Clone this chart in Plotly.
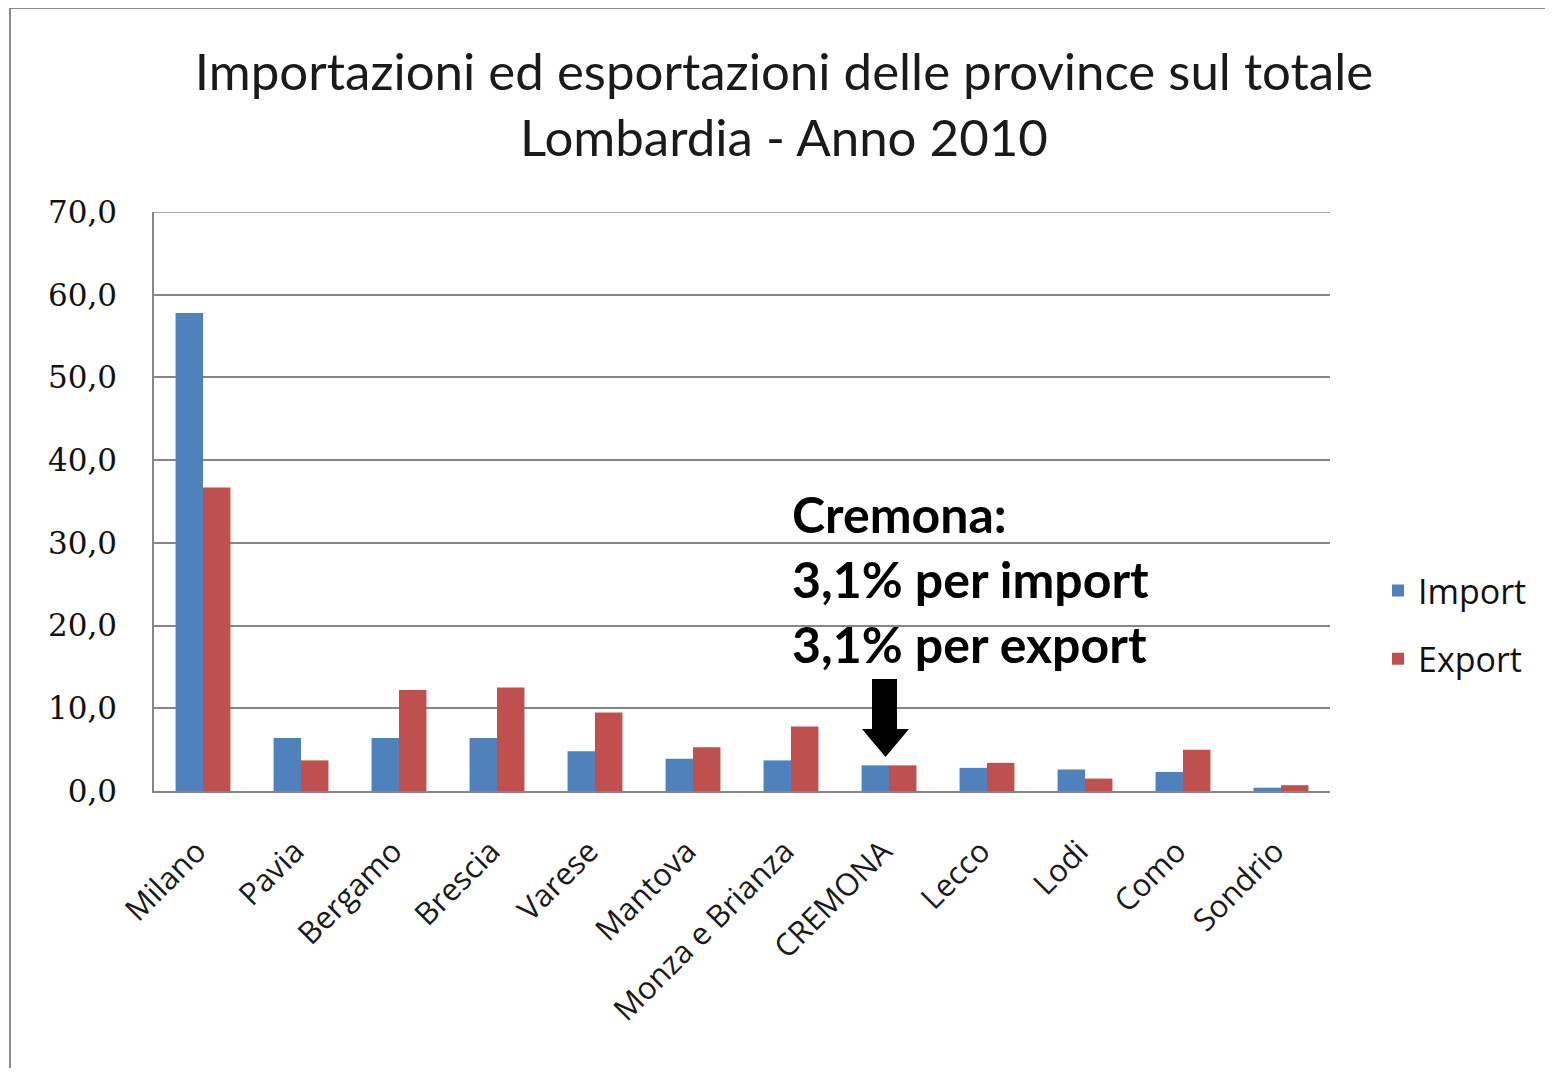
import plotly.graph_objects as go

categories = ["Milano", "Pavia", "Bergamo", "Brescia", "Varese", "Mantova",
              "Monza e Brianza", "CREMONA", "Lecco", "Lodi", "Como", "Sondrio"]
import_vals = [57.8, 6.4, 6.4, 6.4, 4.8, 3.9, 3.7, 3.1, 2.8, 2.6, 2.3, 0.4]
export_vals = [36.7, 3.7, 12.2, 12.5, 9.5, 5.3, 7.8, 3.1, 3.4, 1.5, 5.0, 0.7]
y_ticks = [0, 10, 20, 30, 40, 50, 60, 70]
y_tick_text = ["0,0", "10,0", "20,0", "30,0", "40,0", "50,0", "60,0", "70,0"]

W, H = 1553, 1076
OFF = 8  # page body margin
FW, FH = W - 2 * OFF, H - 2 * OFF
L, R, T, B = 154, 1330, 212, 791


def px(x):
    return (x - L) / (R - L)


def py(y):
    return (B - y) / (B - T)


fig = go.Figure()
fig.add_trace(go.Bar(x=categories, y=import_vals, name="Import",
                     marker=dict(color="#4F81BD", line=dict(width=0)),
                     legendgroup="a"))
fig.add_trace(go.Bar(x=categories, y=export_vals, name="Export",
                     marker=dict(color="#C0504D", line=dict(width=0)),
                     legendgroup="b"))

fig.update_layout(
    width=FW, height=FH, autosize=False,
    margin=dict(l=L - OFF, r=FW + OFF - R, t=T - OFF, b=FH + OFF - B, pad=0),
    paper_bgcolor="white", plot_bgcolor="white",
    barmode="group", bargap=0.44, bargroupgap=0,
    title=dict(text="Importazioni ed esportazioni delle province sul totale<br>Lombardia - Anno 2010",
               x=(784 - OFF) / FW, xanchor="center",
               y=1 - (90 - OFF) / FH, yanchor="middle",
               font=dict(family="Lato", size=51, color="#1a1a1a")),
    font=dict(family="Lato", color="#111111"),
    xaxis=dict(tickangle=-45, tickfont=dict(family="Open Sans", size=31, color="#1a1a1a"),
               showline=True, linecolor="#868686", linewidth=1.5, ticks="",
               showgrid=False, ticklabelstandoff=28, ticklabelshift=-6),
    yaxis=dict(range=[0, 70], tickvals=y_ticks, ticktext=y_tick_text,
               tickfont=dict(family="DejaVu Serif", size=31, color="#111111"),
               showline=True, linecolor="#868686", linewidth=1.5,
               showgrid=True, gridcolor="#868686", gridwidth=1.5,
               ticks="", ticklabelstandoff=29, zeroline=False),
    legend=dict(x=px(1378), y=py(585) + 0.04, xanchor="left", yanchor="top",
                font=dict(family="Open Sans", size=34, color="#111111"),
                traceorder="grouped", tracegroupgap=21, itemwidth=30,
                bgcolor="rgba(0,0,0,0)"),
    showlegend=True,
)

# top gridline at 70
fig.add_shape(type="line", xref="paper", yref="y", x0=0, x1=1, y0=70, y1=70,
              line=dict(color="#868686", width=1.5))

fig.add_annotation(
    text="<b>Cremona:<br>3,1% per import<br>3,1% per export</b>",
    xref="paper", yref="paper", x=px(790), y=py(579),
    xanchor="left", yanchor="middle", align="left", showarrow=False,
    font=dict(family="Lato", size=50, color="black"),
)

# thick block arrow pointing to CREMONA
x0, x1 = px(872), px(897)
hx0, hx1 = px(862), px(909)
tipx = px(885.5)
ys, yh, yt = py(679), py(729), py(757)
path = (f"M {x0},{ys} L {x1},{ys} L {x1},{yh} L {hx1},{yh} L {tipx},{yt} "
        f"L {hx0},{yh} L {x0},{yh} Z")
fig.add_shape(type="path", path=path, xref="paper", yref="paper",
              fillcolor="black", line=dict(width=0))

# outer border (top and left, image cropped at right/bottom)
fig.add_shape(type="line", xref="paper", yref="paper",
              x0=px(10), x1=px(1560), y0=py(8), y1=py(8),
              line=dict(color="#8a8a8a", width=2))
fig.add_shape(type="line", xref="paper", yref="paper",
              x0=px(10), x1=px(10), y0=py(8), y1=py(1080),
              line=dict(color="#8a8a8a", width=2))

fig.write_html("out.html")
